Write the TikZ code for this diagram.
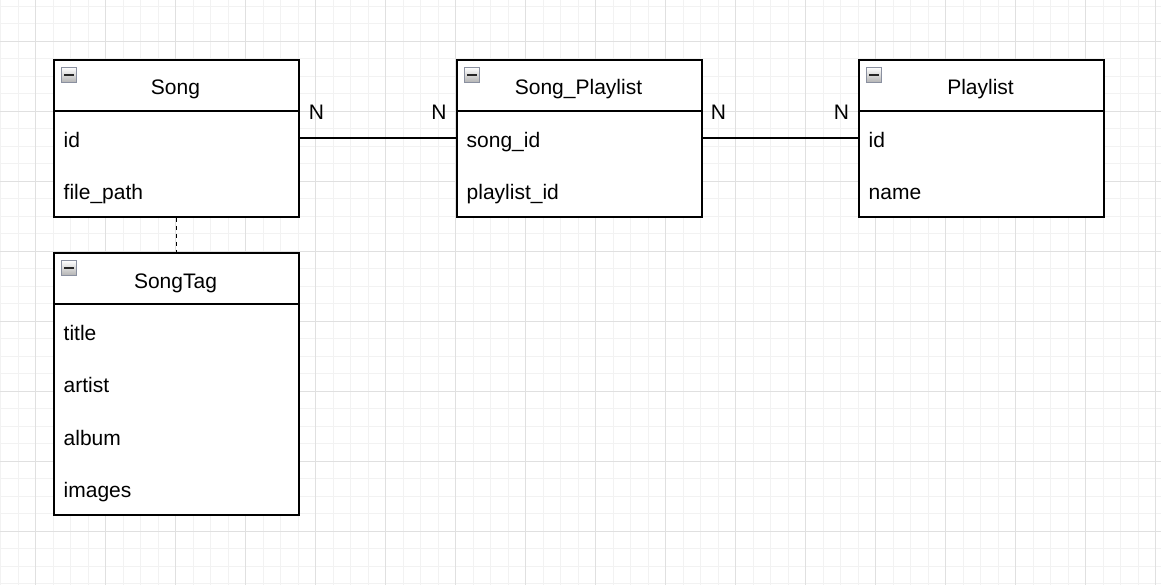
\documentclass[tikz,border=0pt]{standalone}
\usepackage{fontspec}
\setmainfont{Liberation Sans}
\definecolor{gridminor}{HTML}{F2F2F2}
\definecolor{gridmajor}{HTML}{E0E0E0}
\definecolor{iconborder}{HTML}{8A90A0}
\tikzset{
  ebox/.style={draw=black, line width=1.8pt, fill=white, inner sep=0pt, minimum width=245pt, anchor=north west},
  sepline/.style={draw=black, line width=1.8pt},
  etitle/.style={font=\fontsize{21}{25}\selectfont, inner sep=0pt, anchor=base},
  efield/.style={font=\fontsize{21}{25}\selectfont, inner sep=0pt, anchor=base west},
  card/.style={font=\fontsize{21}{25}\selectfont, inner sep=0pt, anchor=base},
  rel/.style={draw=black, line width=1.8pt},
  dashrel/.style={draw=black, line width=1.8pt, dash pattern=on 4pt off 4pt},
}
\newcommand{\minusicon}[1]{%
  \path[top color=white, bottom color=black!30, draw=iconborder, line width=1pt]
    ([xshift=8.5pt,yshift=-8.5pt]#1.north west) rectangle ++(15,15);
  \fill[black!85] ([xshift=11pt,yshift=-14.8pt]#1.north west) rectangle ++(10,2.6);
}
\begin{document}
\begin{tikzpicture}[x=1pt,y=-1pt]
\useasboundingbox (0,0) rectangle (1161,585);
\fill[white] (0,0) rectangle (1161,585);
% grid
\foreach \i in {0,...,66} {\draw[gridminor, line width=1pt] ({0.5+17.5*\i},0) -- ({0.5+17.5*\i},585);}
\foreach \j in {0,...,33} {\draw[gridminor, line width=1pt] (0,{6.3+17.5*\j}) -- (1161,{6.3+17.5*\j});}
\foreach \i in {0,...,16} {\draw[gridmajor, line width=1pt] ({35.5+70*\i},0) -- ({35.5+70*\i},585);}
\foreach \j in {0,...,7} {\draw[gridmajor, line width=1pt] (0,{41.3+70*\j}) -- (1161,{41.3+70*\j});}

% Song
\node[ebox, minimum height=157pt] (song) at (53,59) {};
\draw[sepline] ([yshift=-52pt]song.north west) -- ([yshift=-52pt]song.north east);
\node[etitle] (songT) at (175.5,95) {Song};
\node[efield] (songid) at (63.5,147.5) {id};
\node[efield] (songfp) at (63.5,200) {file\_path};
\minusicon{song}

% Song_Playlist
\node[ebox, minimum height=157pt] (sp) at (456,59) {};
\draw[sepline] ([yshift=-52pt]sp.north west) -- ([yshift=-52pt]sp.north east);
\node[etitle] (spT) at (578.5,95) {Song\_Playlist};
\node[efield] (spsid) at (466.5,147.5) {song\_id};
\node[efield] (sppid) at (466.5,200) {playlist\_id};
\minusicon{sp}

% Playlist
\node[ebox, minimum height=157pt] (pl) at (858,59) {};
\draw[sepline] ([yshift=-52pt]pl.north west) -- ([yshift=-52pt]pl.north east);
\node[etitle] (plT) at (980.5,95) {Playlist};
\node[efield] (plid) at (868.5,147.5) {id};
\node[efield] (plname) at (868.5,200) {name};
\minusicon{pl}

% SongTag
\node[ebox, minimum height=262pt] (st) at (53,252) {};
\draw[sepline] ([yshift=-52pt]st.north west) -- ([yshift=-52pt]st.north east);
\node[etitle] (stT) at (175.5,288) {SongTag};
\node[efield] (sttitle) at (63.5,340) {title};
\node[efield] (startist) at (63.5,392.5) {artist};
\node[efield] (stalbum) at (63.5,445) {album};
\node[efield] (stimages) at (63.5,497.5) {images};
\minusicon{st}

% connectors
\coordinate (r1) at (0,138);
\draw[rel] (song.east |- r1) -- (sp.west |- r1);
\draw[rel] (sp.east |- r1) -- (pl.west |- r1);
\draw[dashrel] (song.south) -- (st.north);

% cardinalities
\node[card] (c1) at (316.5,120) {N};
\node[card] (c2) at (439,120) {N};
\node[card] (c3) at (718.5,120) {N};
\node[card] (c4) at (841.5,120) {N};
\end{tikzpicture}
\end{document}
